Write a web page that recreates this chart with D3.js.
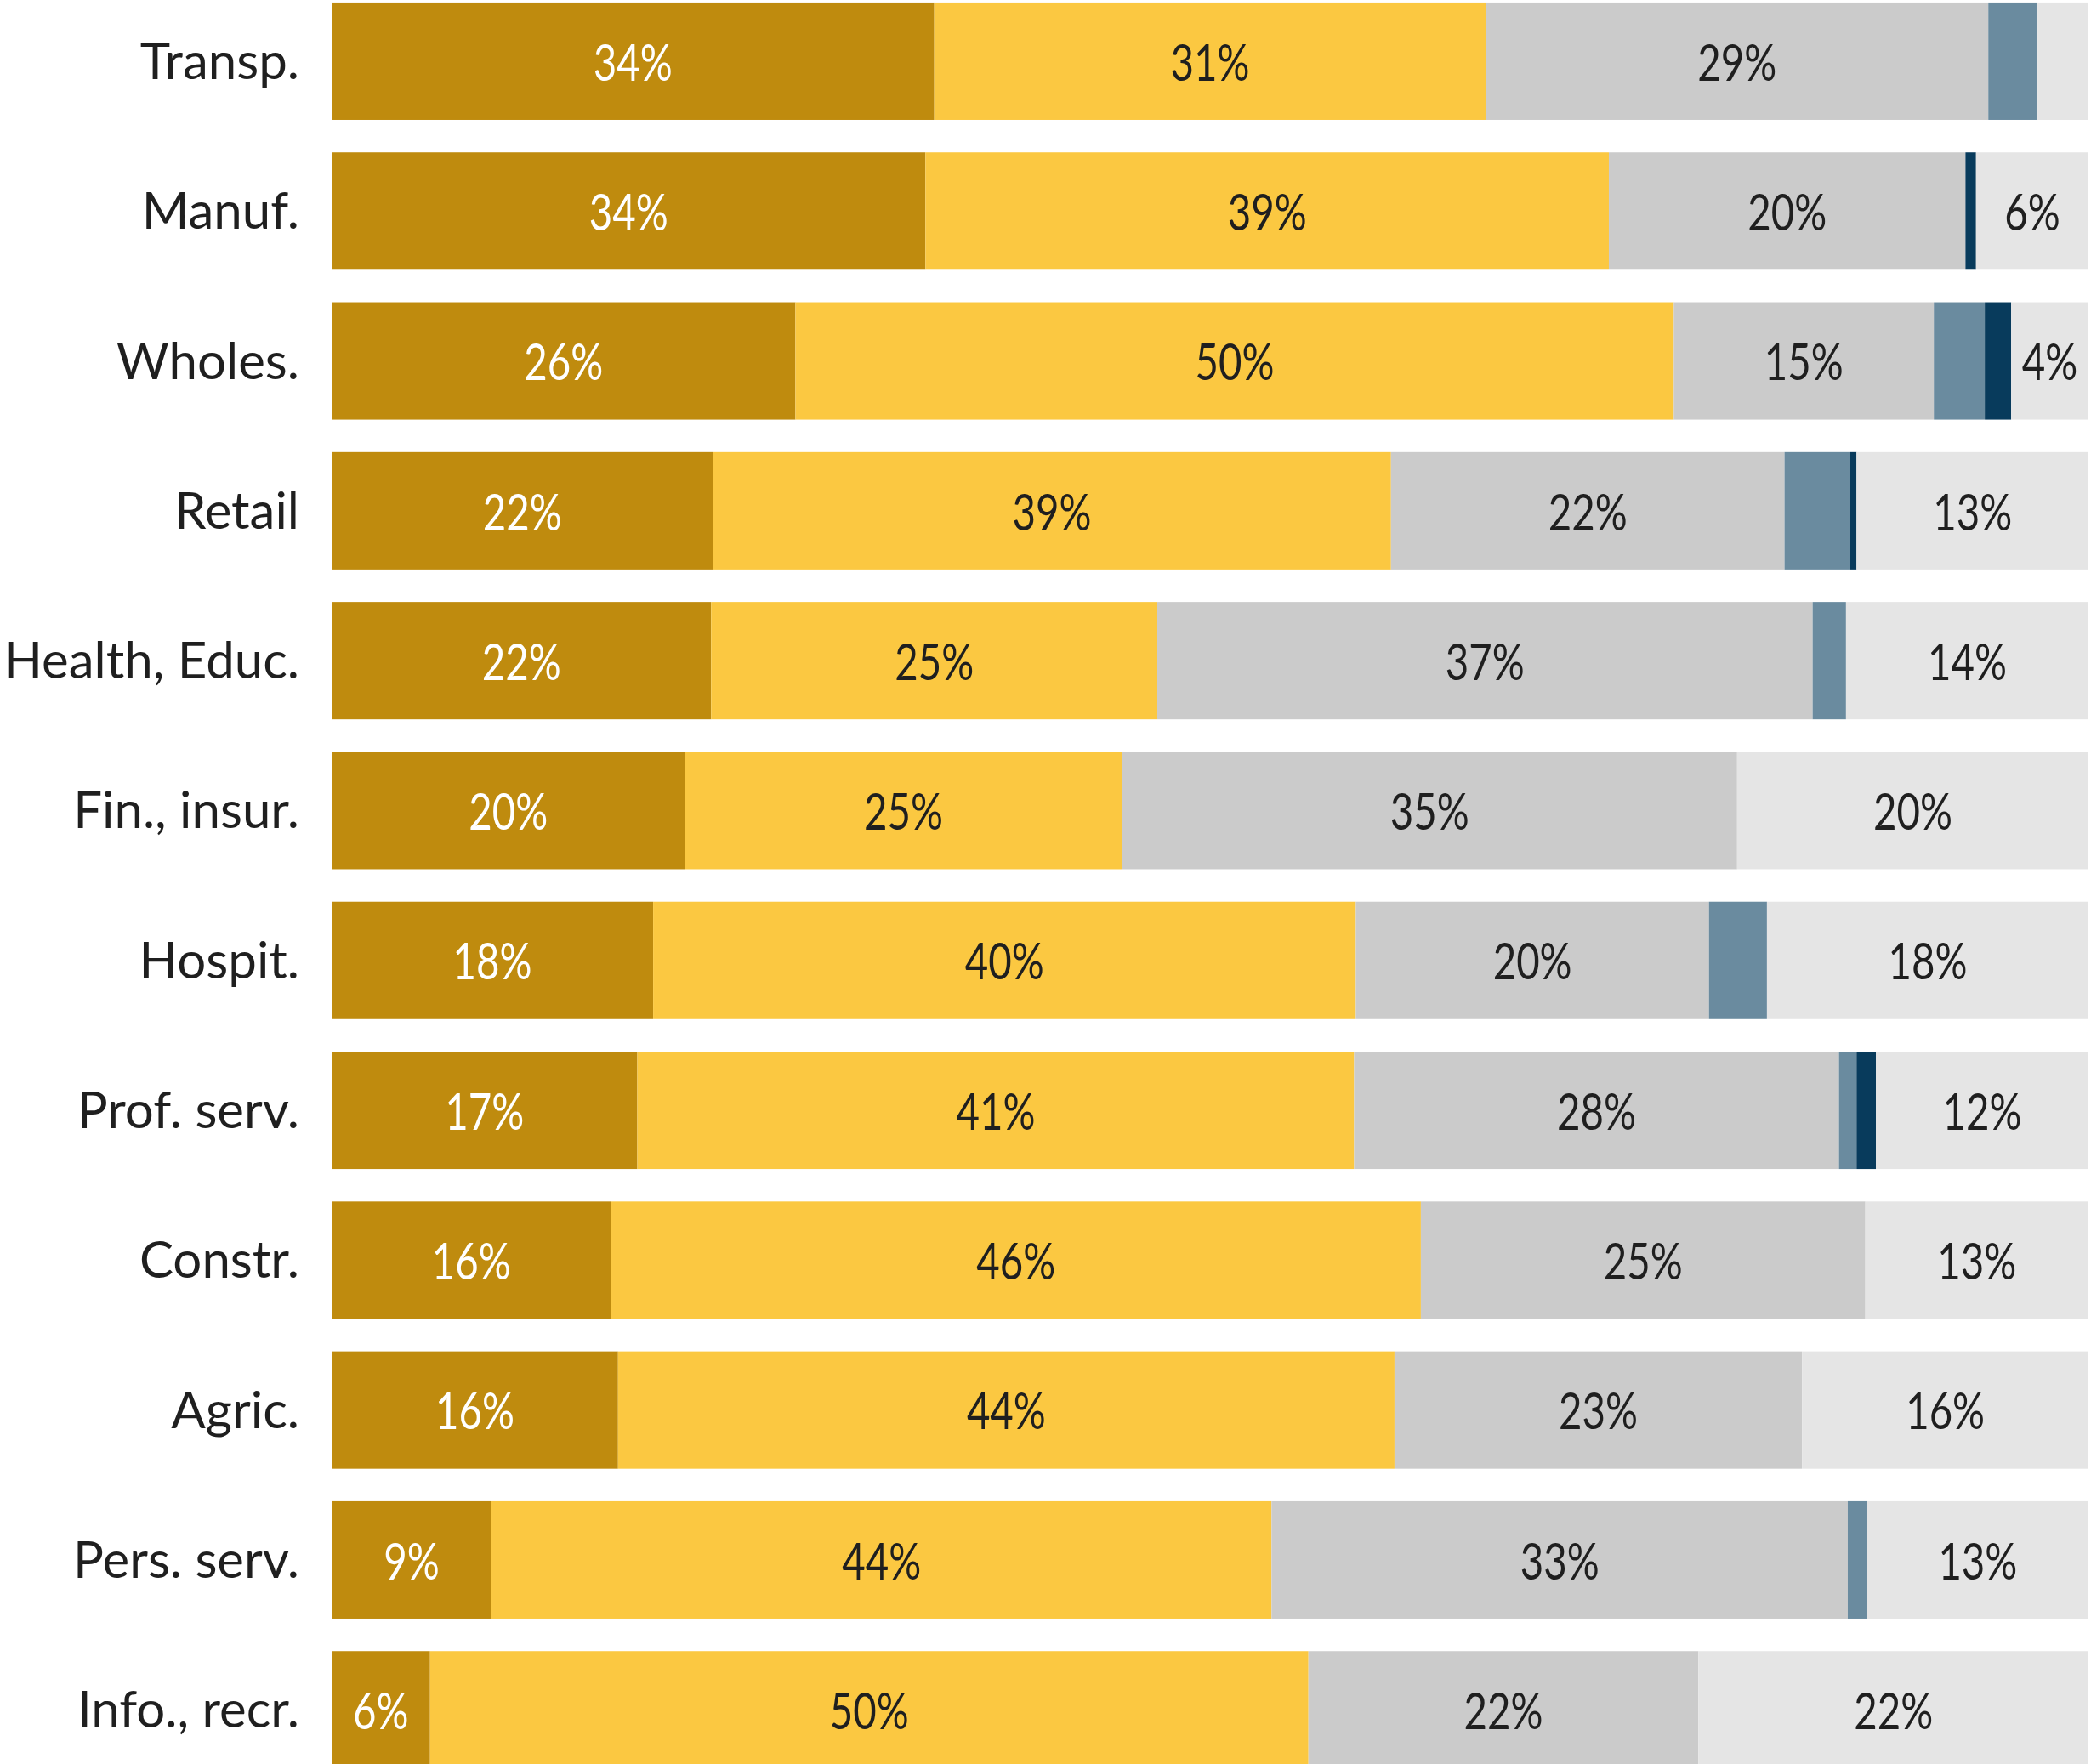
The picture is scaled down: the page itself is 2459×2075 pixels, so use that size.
<!DOCTYPE html>
<html>
<head>
<meta charset="utf-8">
<script src="https://cdn.jsdelivr.net/npm/d3@7"></script>
<style>
    body { margin: 0; background: #fff; }
    svg { display: block; }
</style>
</head>
<body>
<script>
//anonymous function to wrap script
(function(){

    //pseudo-global variables
    var categories = ["Transp.", "Manuf.", "Wholes.", "Retail", "Health, Educ.", "Fin., insur.",
                      "Hospit.", "Prof. serv.", "Constr.", "Agric.", "Pers. serv.", "Info., recr."];

    //shares per segment, left to right (percent)
    var share1 = [34.3, 33.8, 26.4, 21.7, 21.6, 20.1, 18.3, 17.4, 15.9, 16.3, 9.1, 5.6];
    var share2 = [31.4, 38.9, 50.0, 38.6, 25.4, 24.9, 40.0, 40.8, 46.1, 44.2, 44.4, 50.0];
    var share3 = [28.6, 20.3, 14.8, 22.4, 37.3, 35.0, 20.1, 27.6, 25.3, 23.2, 32.8, 22.2];
    var share4 = [2.8, 0, 2.9, 3.7, 1.9, 0, 3.3, 1.0, 0, 0, 1.1, 0];
    var share5 = [0, 0.6, 1.5, 0.4, 0, 0, 0, 1.1, 0, 0, 0, 0];
    var share6 = [2.9, 6.4, 4.4, 13.2, 13.8, 20.0, 18.3, 12.1, 12.7, 16.3, 12.6, 22.2];

    var keys = ["share1", "share2", "share3", "share4", "share5", "share6"];
    var colors = ["#BF8B0E", "#FBC841", "#CBCBCB", "#6A8B9F", "#083B5C", "#E5E5E5"];
    var labelColors = ["#ffffff", "#1f1f1f", "#1f1f1f", "#1f1f1f", "#1f1f1f", "#1f1f1f"];

    //begin script when window loads
    window.onload = setChart();

    function setChart(){
        var width = 2459,
            height = 2075;

        var svg = d3.select("body")
            .append("svg")
            .attr("width", width)
            .attr("height", height);

        //build table rows for the stack generator
        var allShares = [share1, share2, share3, share4, share5, share6];
        var rows = categories.map(function(c, i){
            var row = {category: c};
            keys.forEach(function(k, j){ row[k] = allShares[j][i]; });
            return row;
        });

        var series = d3.stack().keys(keys)(rows);

        var x = d3.scaleLinear()
            .domain([0, 100])
            .range([390, 2456]);

        var y = d3.scaleBand()
            .domain(categories)
            .range([-16.2, -16.2 + 12 * 176.3])
            .paddingInner(0.217)
            .paddingOuter(0.1085);

        //segments
        var groups = svg.selectAll(".series")
            .data(series)
            .enter()
            .append("g")
            .attr("class", "series")
            .attr("fill", function(d, i){ return colors[i]; });

        groups.selectAll("rect")
            .data(function(d){ return d; })
            .enter()
            .append("rect")
            .attr("x", function(d){ return x(d[0]); })
            .attr("width", function(d){ return x(d[1]) - x(d[0]); })
            .attr("y", function(d){ return y(d.data.category); })
            .attr("height", y.bandwidth());

        //value labels - only on segments wide enough, squeezed to look condensed
        groups.each(function(s, i){
            d3.select(this).selectAll("text")
                .data(s.filter(function(d){ return d[1] - d[0] >= 4; }))
                .enter()
                .append("text")
                .attr("transform", function(d){
                    var cx = (x(d[0]) + x(d[1])) / 2,
                        cy = y(d.data.category) + y.bandwidth() / 2;
                    return "translate(" + cx + "," + cy + ") scale(0.79,1)";
                })
                .attr("text-anchor", "middle")
                .attr("dominant-baseline", "central")
                .attr("fill", labelColors[i])
                .style("font-family", "Lato, 'Open Sans', sans-serif")
                .style("font-size", "60px")
                .text(function(d){ return Math.round(d[1] - d[0]) + "%"; });
        });

        //category axis
        var axis = svg.append("g")
            .attr("class", "yaxis")
            .attr("transform", "translate(390,0)")
            .call(d3.axisLeft(y).tickSize(0).tickPadding(38));

        axis.select(".domain").remove();
        axis.selectAll("text")
            .attr("fill", "#1f1f1f")
            .attr("dy", "0.35em")
            .style("font-family", "Lato, 'Open Sans', sans-serif")
            .style("font-size", "60px");
    };

})();
</script>
</body>
</html>
